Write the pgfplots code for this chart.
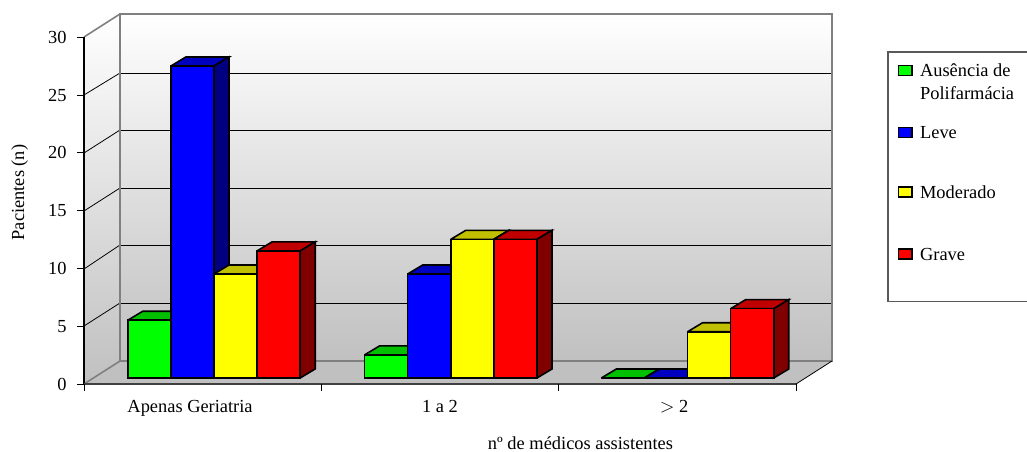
\documentclass[border=0pt]{standalone}
\usepackage{fontspec}
\setmainfont{Liberation Serif}
\usepackage{pgfplots}
\pgfplotsset{compat=1.18}
\definecolor{wallg}{HTML}{C0C0C0}
\definecolor{frameg}{HTML}{808080}
\definecolor{gfront}{HTML}{00FF00}\definecolor{gtop}{HTML}{00C000}\definecolor{gside}{HTML}{008000}
\definecolor{bfront}{HTML}{0000FF}\definecolor{btop}{HTML}{0000C0}\definecolor{bside}{HTML}{000080}
\definecolor{yfront}{HTML}{FFFF00}\definecolor{ytop}{HTML}{C0C000}\definecolor{yside}{HTML}{808000}
\definecolor{rfront}{HTML}{FF0000}\definecolor{rtop}{HTML}{C00000}\definecolor{rside}{HTML}{800000}
% 1 px of the reference = .75pt
\pgfplotsset{barleg/.style={legend image code/.code={\draw[##1] (0pt,0.75pt) rectangle (10pt,8.25pt);}}}
% one series: shift, front, top, side, three values, legend entry
\newcommand{\barfaces}[5]{%
  \pgfmathsetmacro\xl{#1+#2-0.091}\pgfmathsetmacro\xr{#1+#2+0.091}%
  \pgfmathsetmacro\xlb{\xl+0.0634}\pgfmathsetmacro\xrb{\xr+0.0634}%
  \pgfmathsetmacro\yb{#3+0.78}%
  \edef\tmp{\noexpand\addplot[forget plot,fill=#4,draw=black,line width=1.2pt,mark=none] coordinates {(\xl,#3)(\xlb,\yb)(\xrb,\yb)(\xr,#3)(\xl,#3)};
    \noexpand\addplot[forget plot,fill=#5,draw=black,line width=1.2pt,mark=none] coordinates {(\xr,0)(\xrb,0.78)(\xrb,\yb)(\xr,#3)(\xr,0)};}%
  \tmp}
\newcommand{\barseries}[8]{%
  \barfaces{0}{#1}{#5}{#3}{#4}\barfaces{1}{#1}{#6}{#3}{#4}\barfaces{2}{#1}{#7}{#3}{#4}%
  \addplot[ybar,bar width=0.182,bar shift=#1,fill=#2,draw=black,line width=1.2pt,barleg] coordinates {(0,#5)(1,#6)(2,#7)};
  \addlegendentry{#8}}
\begin{document}
\begin{tikzpicture}
\useasboundingbox (0,0) rectangle (770.25pt,-339pt);
\begin{scope}[x=.75pt,y=-.75pt]
  % walls and floor
  \shade[top color=white,bottom color=wallg] (120,14) rectangle (832,361);
  \shade[top color=white,bottom color=wallg] (84,37) -- (120,14) -- (120,361) -- (84,384) -- cycle;
  \fill[wallg] (84,384) -- (120,361) -- (832,361) -- (796,384) -- cycle;
  \foreach \y in {303,245,188,130,73} \draw[line width=.7pt] (120,\y) -- (832,\y);
  \foreach \a/\b in {326/303,269/245,211/188,153/130,95/73} \draw[line width=.6pt] (84,\a) -- (120,\b);
  \draw[frameg,line width=1.5pt] (120,361) -- (120,14) -- (832,14) -- (832,361) -- cycle;
  \draw[frameg,line width=1.2pt] (84,37) -- (120,14);
  \draw[frameg,line width=1.2pt] (84,384) -- (120,361);
  \draw[line width=.6pt] (796,384) -- (832,361);
  \draw[line width=.8pt] (84,384) -- (84,37);
  \draw[black!75,line width=.9pt] (84,384) -- (796,384);
  % legend box, open at the page edge
  \draw[black!65,line width=.9pt] (1027,52) -- (888,52) -- (888,301.5) -- (1027,301.5);
\end{scope}
\begin{axis}[
  at={(63pt,-288pt)},anchor=south west,
  scale only axis,width=561pt,height=277.5pt,
  clip=false,
  xmin=-0.549,xmax=2.61,ymin=-0.52,ymax=31.5,
  axis line style={draw=none},
  xtick pos=bottom,ytick pos=left,
  tick align=outside,major tick length=5pt,tick style={black,line width=.6pt},
  xtick={-0.549,0.452,1.453,2.458},xticklabels={},
  extra x ticks={-0.101,0.954,1.943},
  extra x tick labels={Apenas Geriatria,1 a 2,{$>$ 2}},
  extra x tick style={major tick length=0pt,xticklabel style={yshift=-9pt}},
  ytick={-0.52,4.48,9.48,14.48,19.48,24.48,29.48},
  yticklabels={0,5,10,15,20,25,30},
  yticklabel style={xshift=-4.5pt},
  tick label style={font=\fontsize{13.8}{16}\selectfont},
  xlabel={nº de médicos assistentes},
  ylabel={Pacientes (n)},
  every axis x label/.style={at={(axis description cs:0.6638,-0.1595)},anchor=center,inner sep=0pt,font=\fontsize{13.8}{16}\selectfont},
  every axis y label/.style={at={(axis description cs:-0.086,0.5176)},anchor=center,rotate=90,font=\fontsize{13.8}{16}\selectfont},
  legend style={at={(axis description cs:1.088,0.876)},anchor=north west,draw=none,fill=none,inner sep=0pt,outer sep=0pt,
    cells={anchor=base west},
    nodes={inner sep=0pt,text depth={}},
    font=\fontsize{13.8}{18}\selectfont,row sep=0pt,/tikz/every odd column/.append style={column sep=5.5pt}},
]
\barseries{-0.273}{gfront}{gtop}{gside}{5}{2}{0}{\begin{tabular}[t]{@{}l@{}}Ausência de\\[-1pt]Polifarmácia\\[15pt]\end{tabular}}
\barseries{-0.091}{bfront}{btop}{bside}{27}{9}{0}{\rule[-35pt]{0pt}{1pt}Leve}
\barseries{0.091}{yfront}{ytop}{yside}{9}{12}{4}{\rule[-37.5pt]{0pt}{1pt}Moderado}
\barseries{0.273}{rfront}{rtop}{rside}{11}{12}{6}{Grave}
\end{axis}
\end{tikzpicture}
\end{document}
